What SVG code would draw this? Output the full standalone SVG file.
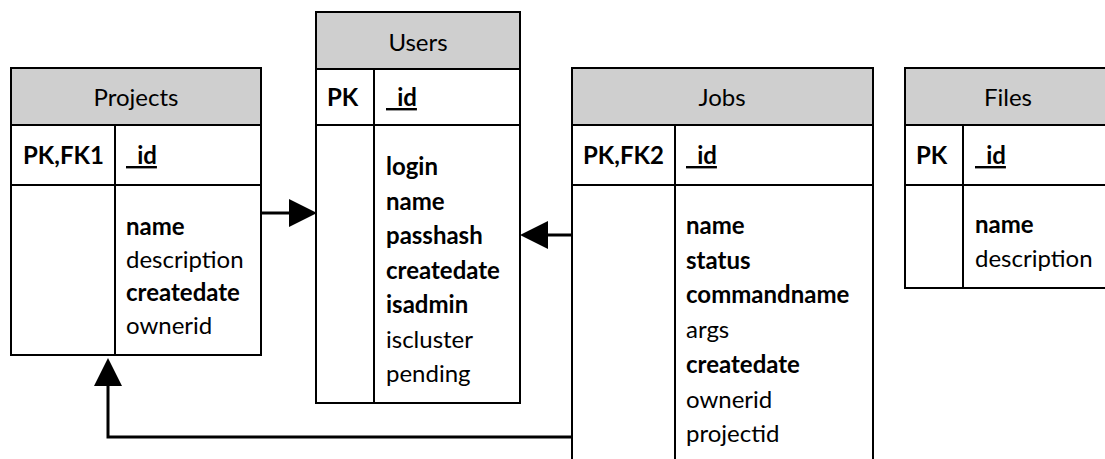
<svg xmlns="http://www.w3.org/2000/svg" width="1105" height="459" viewBox="0 0 1105 459">
  <style>
    .box { fill: #ffffff; stroke: #000000; stroke-width: 2; }
    .head { fill: #cfcfcf; stroke: #000000; stroke-width: 2; }
    .div { stroke: #000000; stroke-width: 2; fill: none; }
    text { font-family: "Lato", "Liberation Sans", sans-serif; font-size: 24px; fill: #000000; }
    .title { text-anchor: middle; }
    .b { font-weight: bold; }
    .key { font-weight: bold; text-decoration: underline; }
    .link { stroke: #000000; stroke-width: 3; fill: none; marker-end: url(#arrow); }
  </style>
  <defs>
    <marker id="arrow" viewBox="0 0 28 28" refX="0" refY="14" markerWidth="28" markerHeight="28" markerUnits="userSpaceOnUse" orient="auto">
      <path d="M0,0 L28,14 L0,28 Z" fill="#000000"/>
    </marker>
  </defs>

  <rect width="1105" height="459" fill="#ffffff"/>

  <!-- Projects table -->
  <g id="projects">
    <rect class="box" x="11" y="68" width="250" height="287"/>
    <rect class="head" x="11" y="68" width="250" height="57"/>
    <line class="div" x1="11" y1="185" x2="261" y2="185"/>
    <line class="div" x1="115" y1="125" x2="115" y2="355"/>
    <text class="title" x="136" y="106">Projects</text>
    <text class="b" x="23" y="164">PK,FK1</text>
    <text class="key" x="126" y="164">_id</text>
    <text class="b" x="126" y="235">name</text>
    <text x="126" y="268">description</text>
    <text class="b" x="126" y="301">createdate</text>
    <text x="126" y="334">ownerid</text>
  </g>

  <!-- Users table -->
  <g id="users">
    <rect class="box" x="316" y="12" width="204" height="391"/>
    <rect class="head" x="316" y="12" width="204" height="57"/>
    <line class="div" x1="316" y1="125" x2="520" y2="125"/>
    <line class="div" x1="374" y1="69" x2="374" y2="403"/>
    <text class="title" x="418" y="51">Users</text>
    <text class="b" x="327" y="106">PK</text>
    <text class="key" x="386" y="106">_id</text>
    <text class="b" x="386" y="175">login</text>
    <text class="b" x="386" y="209.5">name</text>
    <text class="b" x="386" y="244">passhash</text>
    <text class="b" x="386" y="278.5">createdate</text>
    <text class="b" x="386" y="313">isadmin</text>
    <text x="386" y="347.5">iscluster</text>
    <text x="386" y="382">pending</text>
  </g>

  <!-- Jobs table (continues below the frame) -->
  <g id="jobs">
    <rect class="box" x="572" y="68" width="301" height="410"/>
    <rect class="head" x="572" y="68" width="301" height="57"/>
    <line class="div" x1="572" y1="185" x2="873" y2="185"/>
    <line class="div" x1="675" y1="125" x2="675" y2="478"/>
    <text class="title" x="722" y="106">Jobs</text>
    <text class="b" x="583" y="164">PK,FK2</text>
    <text class="key" x="686" y="164">_id</text>
    <text class="b" x="686" y="234">name</text>
    <text class="b" x="686" y="268.7">status</text>
    <text class="b" x="686" y="303.4">commandname</text>
    <text x="686" y="338">args</text>
    <text class="b" x="686" y="372.8">createdate</text>
    <text x="686" y="407.5">ownerid</text>
    <text x="686" y="442">projectid</text>
  </g>

  <!-- Files table (continues past the right edge) -->
  <g id="files">
    <rect class="box" x="905" y="68" width="206" height="220"/>
    <rect class="head" x="905" y="68" width="206" height="57"/>
    <line class="div" x1="905" y1="185" x2="1111" y2="185"/>
    <line class="div" x1="963" y1="125" x2="963" y2="288"/>
    <text class="title" x="1008" y="106">Files</text>
    <text class="b" x="916" y="164">PK</text>
    <text class="key" x="975" y="164">_id</text>
    <text class="b" x="975" y="233">name</text>
    <text x="975" y="267">description</text>
  </g>

  <!-- Relationships -->
  <g id="connectors">
    <path class="link" d="M262,213 H289"/>
    <path class="link" d="M572,235 H548"/>
    <path class="link" d="M572,437 H108 V386"/>
  </g>
</svg>
